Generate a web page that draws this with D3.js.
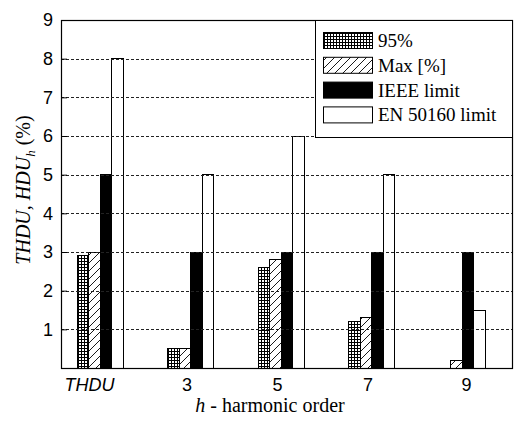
<!DOCTYPE html>
<html><head><meta charset="utf-8">
<script src="https://cdn.jsdelivr.net/npm/d3@7"></script>
<style>body{margin:0;background:#fff}svg{display:block}</style>
</head><body>
<svg id="c" width="515" height="426"></svg>
<script>
const categories = ["THDU", "3", "5", "7", "9"];
const seriesNames = ["95%", "Max [%]", "IEEE limit", "EN 50160 limit"];
const p95 = [2.9, 0.5, 2.6, 1.2, 0];
const maxPct = [3.0, 0.5, 2.8, 1.3, 0.2];
const ieeeLimit = [5, 3, 3, 3, 3];
const enLimit = [8, 5, 6, 5, 1.5];
const yTicks = [1, 2, 3, 4, 5, 6, 7, 8, 9];
const gridTicks = [1, 2, 3, 4, 5, 6, 7, 8];

const seriesValues = [p95, maxPct, ieeeLimit, enLimit];
const fills = ["url(#grid)", "url(#hatch)", "#000", "#fff"];

const svg = d3.select("#c");
const L = 61, R = 513, T = 20, B = 368;

const defs = svg.append("defs");
const g1 = defs.append("pattern").attr("id", "grid").attr("patternUnits", "userSpaceOnUse")
  .attr("width", 3).attr("height", 3);
g1.append("rect").attr("width", 3).attr("height", 3).attr("fill", "#fff");
g1.append("path").attr("d", "M0,0.5H3M0.5,0V3").attr("stroke", "#000").attr("stroke-width", 1);
const g2 = defs.append("pattern").attr("id", "hatch").attr("patternUnits", "userSpaceOnUse")
  .attr("width", 8).attr("height", 8);
g2.append("rect").attr("width", 8).attr("height", 8).attr("fill", "#fff");
g2.append("path").attr("d", "M0,8L8,0M-2,2L2,-2M6,10L10,6").attr("stroke", "#000").attr("stroke-width", 0.9);

const x = d3.scalePoint().domain(categories).range([100, 462]);
const x1 = d3.scaleBand().domain(seriesNames).range([-23, 23]);
const y = d3.scaleLinear().domain([0, 9]).range([B, T]);

// bars
seriesNames.forEach((s, si) => {
  svg.append("g").selectAll("rect").data(categories).join("rect")
    .attr("x", c => x(c) + x1(s))
    .attr("width", x1.bandwidth())
    .attr("y", (c, i) => y(seriesValues[si][i]))
    .attr("height", (c, i) => B - y(seriesValues[si][i]))
    .attr("fill", fills[si])
    .attr("stroke", (c, i) => seriesValues[si][i] > 0 ? "#000" : "none")
    .attr("stroke-width", 1)
    .attr("shape-rendering", "crispEdges");
});

// gridlines
svg.append("g").selectAll("line").data(gridTicks).join("line")
  .attr("x1", L).attr("x2", R)
  .attr("y1", d => Math.round(y(d)) + 0.5).attr("y2", d => Math.round(y(d)) + 0.5)
  .attr("stroke", "#222").attr("stroke-width", 1).attr("stroke-dasharray", "3,2");

// y axis
const yAxis = svg.append("g").attr("transform", `translate(${L},0)`)
  .call(d3.axisLeft(y).tickValues(yTicks).tickSizeInner(-6).tickSizeOuter(0).tickPadding(8));
yAxis.select(".domain").remove();
yAxis.selectAll("text").attr("font-family", "Liberation Sans, Arial, sans-serif")
  .attr("font-size", 18).attr("fill", "#000");
yAxis.selectAll("line").attr("stroke", "#000");

// x axis labels
const xAxis = svg.append("g").attr("transform", `translate(0,${B})`)
  .call(d3.axisBottom(x).tickSize(0).tickPadding(10));
xAxis.select(".domain").remove();
xAxis.selectAll("text").attr("font-family", "Liberation Sans, Arial, sans-serif")
  .attr("font-size", 18).attr("fill", "#000")
  .attr("font-style", d => d === "THDU" ? "italic" : "normal")
  .attr("dx", d => d === "THDU" ? -11 : (d === "9" ? 4 : -4));

// frame
svg.append("rect").attr("x", L + 0.5).attr("y", T + 0.5).attr("width", R - L - 1).attr("height", B - T)
  .attr("fill", "none").attr("stroke", "#000").attr("stroke-width", 1.2);

// legend
const lg = svg.append("g");
lg.append("rect").attr("x", 315.5).attr("y", T + 0.5).attr("width", R - 316).attr("height", 117)
  .attr("fill", "#fff").attr("stroke", "#000").attr("stroke-width", 1);
seriesNames.forEach((s, i) => {
  const cy = 40.5 + i * 24.8;
  lg.append("rect").attr("x", 323.5).attr("y", cy - 8).attr("width", 49).attr("height", 16)
    .attr("fill", fills[i]).attr("stroke", "#000").attr("stroke-width", 1);
  lg.append("text").attr("x", 378).attr("y", cy + 6.5).text(s)
    .attr("font-family", "Liberation Serif, Times New Roman, serif").attr("font-size", 19).attr("fill", "#000");
});

// axis titles
const xt = svg.append("text").attr("x", 270).attr("y", 412).attr("text-anchor", "middle")
  .attr("font-family", "Liberation Serif, Times New Roman, serif").attr("font-size", 20).attr("fill", "#000");
xt.append("tspan").attr("font-style", "italic").text("h");
xt.append("tspan").text(" - harmonic order");

const yt = svg.append("text").attr("transform", "translate(30,190) rotate(-90)").attr("text-anchor", "middle")
  .attr("font-family", "Liberation Serif, Times New Roman, serif").attr("font-size", 20).attr("fill", "#000");
yt.append("tspan").attr("font-style", "italic").text("THDU, HDU");
yt.append("tspan").attr("font-style", "italic").attr("font-size", 13).attr("dy", 5).text("h");
yt.append("tspan").attr("dy", -5).text("  (%)");
</script>
</body></html>
